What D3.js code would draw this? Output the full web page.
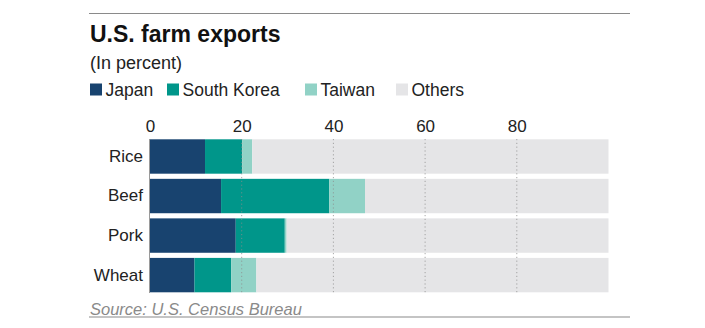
<!DOCTYPE html>
<html>
<head>
<meta charset="utf-8">
<script src="https://cdn.jsdelivr.net/npm/d3@7"></script>
<style>
  html, body { margin: 0; padding: 0; background: #fff; }
  svg { display: block; font-family: "Liberation Sans", Arial, sans-serif; }
</style>
</head>
<body>
<svg id="chart" width="705" height="328"></svg>
<script>
// Share of U.S. farm exports by destination (percent)
const categories = ["Rice", "Beef", "Pork", "Wheat"];
const seriesNames = ["Japan", "South Korea", "Taiwan", "Others"];
const japan      = [12.0, 15.5, 18.7, 9.7];
const southKorea = [8.1, 23.6, 10.7, 8.0];
const taiwan     = [2.2, 7.8, 0.4, 5.5];
const others     = categories.map((c, i) => +(100 - japan[i] - southKorea[i] - taiwan[i]).toFixed(1));
const xTicks = [0, 20, 40, 60, 80];

const colors = ["#18436f", "#00968a", "#91d2c6", "#e5e5e7"];

const rows = categories.map((c, i) => ({
  category: c,
  "Japan": japan[i],
  "South Korea": southKorea[i],
  "Taiwan": taiwan[i],
  "Others": others[i]
}));

const svg = d3.select("#chart");
const left = 89, right = 630;

// top and bottom rules
svg.append("line").attr("x1", left).attr("x2", right).attr("y1", 13.5).attr("y2", 13.5)
  .attr("stroke", "#8a8a8a").attr("stroke-width", 1.2);
svg.append("line").attr("x1", left).attr("x2", right).attr("y1", 317).attr("y2", 317)
  .attr("stroke", "#8a8a8a").attr("stroke-width", 1.2);

// heading
svg.append("text").attr("x", left + 1).attr("y", 42)
  .attr("font-size", 23).attr("font-weight", "bold").attr("fill", "#111")
  .text("U.S. farm exports");
svg.append("text").attr("x", left + 1).attr("y", 69)
  .attr("font-size", 18).attr("fill", "#222")
  .text("(In percent)");

// legend
const legendX = [90, 167, 305, 396];
const legend = svg.append("g");
seriesNames.forEach((name, i) => {
  const g = legend.append("g").attr("transform", `translate(${legendX[i]},0)`);
  g.append("rect").attr("x", 0).attr("y", 83.5).attr("width", 12).attr("height", 12)
    .attr("fill", colors[i]);
  g.append("text").attr("x", 15.5).attr("y", 95.5)
    .attr("font-size", 17.5).attr("fill", "#222").text(name);
});

// scales
const x = d3.scaleLinear().domain([0, 100]).range([150, 608.5]);
const y = d3.scaleBand().domain(categories).range([139.3, 292.3])
  .paddingInner(0.13).paddingOuter(0);
const color = d3.scaleOrdinal().domain(seriesNames).range(colors);

// stacked bars
const stacked = d3.stack().keys(seriesNames)(rows);
svg.append("g").selectAll("g")
  .data(stacked)
  .join("g")
  .attr("fill", d => color(d.key))
  .selectAll("rect")
  .data(d => d)
  .join("rect")
  .attr("x", d => x(d[0]))
  .attr("y", d => y(d.data.category))
  .attr("width", d => x(d[1]) - x(d[0]))
  .attr("height", y.bandwidth());

// dotted gridlines over the bars
svg.append("g").selectAll("line")
  .data(xTicks.filter(t => t > 0))
  .join("line")
  .attr("x1", d => x(d)).attr("x2", d => x(d))
  .attr("y1", 139).attr("y2", 293)
  .attr("stroke", "#8c8c8c").attr("stroke-opacity", 0.75)
  .attr("stroke-width", 1).attr("stroke-dasharray", "1.2,2.6");

// left baseline
svg.append("line").attr("x1", 149.5).attr("x2", 149.5).attr("y1", 139).attr("y2", 293)
  .attr("stroke", "#9a9a9a").attr("stroke-width", 1);

// top axis labels
const xAxis = svg.append("g").attr("transform", "translate(0,139.3)")
  .call(d3.axisTop(x).tickValues(xTicks).tickSize(0).tickPadding(7));
xAxis.select(".domain").remove();
xAxis.selectAll("text").attr("font-size", 17).attr("fill", "#222")
  .attr("font-family", "Liberation Sans, Arial, sans-serif");

// category labels
const yAxis = svg.append("g").attr("transform", "translate(150,0)")
  .call(d3.axisLeft(y).tickSize(0).tickPadding(7));
yAxis.select(".domain").remove();
yAxis.selectAll("text").attr("font-size", 17).attr("fill", "#222")
  .attr("font-family", "Liberation Sans, Arial, sans-serif");

// source note
svg.append("text").attr("x", 90).attr("y", 314.5)
  .attr("font-size", 16.5).attr("font-style", "italic").attr("fill", "#8a8a8a")
  .text("Source: U.S. Census Bureau");
</script>
</body>
</html>
